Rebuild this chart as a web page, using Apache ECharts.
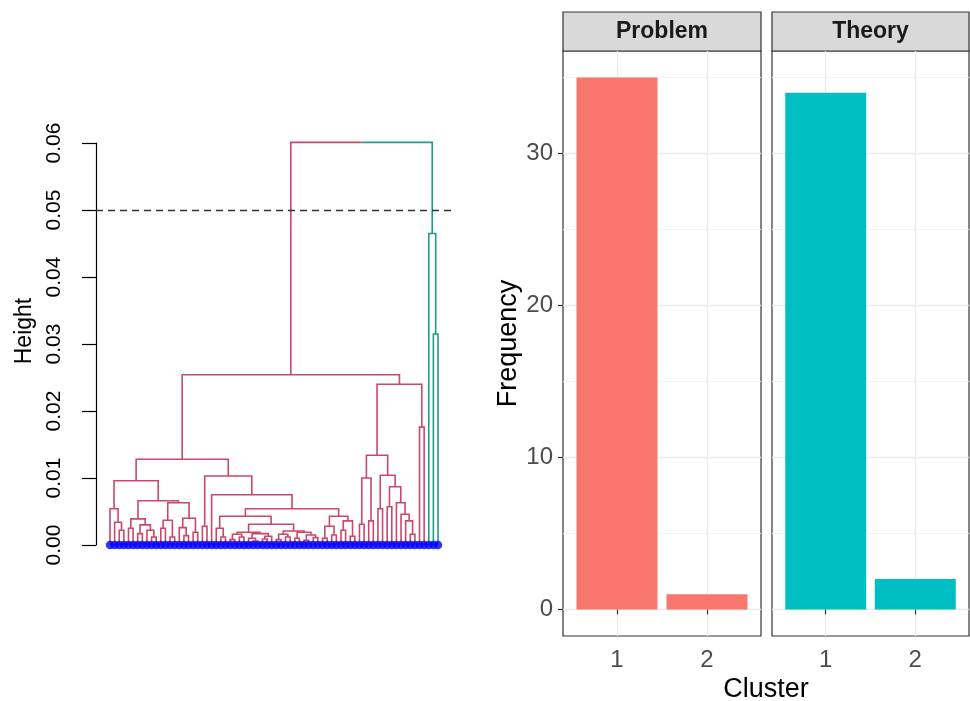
<!DOCTYPE html>
<html><head><meta charset="utf-8">
<script src="https://cdn.jsdelivr.net/npm/echarts@6/dist/echarts.min.js"></script>
<style>html,body{margin:0;padding:0;background:#fff}#c{width:970px;height:701px}</style>
</head><body><div id="c"></div>
<script>
// ---------------- Dendrogram data: node = [mergeHeight, left, right], 0 = leaf ----------------
const subA   = [0.0054, 0, [0.0034, 0, [0.0022, 0, 0]]];
const subB1  = [0.0039, [0.0025, 0, 0], [0.0030, [0.0017, 0, 0], [0.0022, 0, [0.0012, 0, 0]]]];
const subB2  = [0.0063, [0.0037, [0.0025, 0, 0], [0.0012, 0, 0]], [0.0040, [0.0026, 0, [0.0014, 0, 0]], [0.0019, 0, 0]]];
const subQ   = [0.0096, subA, [0.0066, subB1, subB2]];
const subRLa = [0.0019, [0.0016, [0.0008, 0, 0], [0.0012, 0, 0]], [0.0017, [0.0010, 0, [0.0006, 0, 0]], [0.0013, [0.0009, 0, 0], 0]]];
const subRLb = [0.0021, [0.0016, [0.0008, 0, 0], [0.0012, 0, 0]], [0.0019, [0.0010, 0, 0], [0.0015, [0.0007, 0, 0], [0.0011, 0, 0]]]];
const subRL  = [0.0043, [0.0025, 0, [0.0012, 0, 0]], [0.0031, subRLa, subRLb]];
const subRR  = [0.0043, [0.0028, [0.0010, 0, 0], [0.0015, 0, 0]], [0.0036, [0.0022, 0, 0], [0.0013, 0, 0]]];
const subR   = [0.0103, [0.0028, 0, 0], [0.0075, 0, [0.0054, subRL, subRR]]];
const subS1  = [0.0134, [0.0100, [0.0031, 0, 0], [0.0036, 0, 0]],
                [0.0104, [0.0054, 0, 0], [0.0087, [0.0057, 0, 0], [0.0063, 0, [0.0046, 0, [0.0036, 0, [0.0016, 0, 0]]]]]]];
const subS   = [0.0240, subS1, [0.0176, 0, 0]];
const cluster1Tree = [0.0254, [0.0128, subQ, subR], subS];
const cluster2Tree = [0.0465, 0, [0.0315, 0, 0]];
const rootHeight = 0.0601;
const cutHeight = 0.05;

// ---------------- Bar chart data ----------------
const facetNames = ['Problem', 'Theory'];
const clusterCategories = [1, 2];
const problemFreq = [35, 1];
const theoryFreq = [34, 2];
const freqTicks = [0, 10, 20, 30];
const freqMinor = [5, 15, 25, 35];

// ---------------- Build dendrogram segments ----------------
const PINK = '#CC476B', GREEN = '#1E9C88';
let leafCounter = 0;
const segs = [], leafPts = [];
function layout(node, color) {
  if (node === 0) { const x = leafCounter++; leafPts.push([x, 0]); return {x: x, h: 0}; }
  const a = layout(node[1], color), b = layout(node[2], color);
  segs.push({coords: [[a.x, a.h], [a.x, node[0]], [b.x, node[0]], [b.x, b.h]], lineStyle: {color: color}});
  return {x: (a.x + b.x) / 2, h: node[0]};
}
const c1 = layout(cluster1Tree, PINK);
const c2 = layout(cluster2Tree, GREEN);
const xm = (c1.x + c2.x) / 2;
segs.push({coords: [[c1.x, c1.h], [c1.x, rootHeight], [xm, rootHeight]], lineStyle: {color: PINK}});
segs.push({coords: [[xm, rootHeight], [c2.x, rootHeight], [c2.x, c2.h]], lineStyle: {color: GREEN}});
const nLeaves = leafCounter;

const FONT = 'Liberation Sans, Arial, sans-serif';
const chart = echarts.init(document.getElementById('c'), null, {renderer: 'canvas'});

function barYAxis(idx, showLabels) {
  return {
    gridIndex: idx, type: 'value', min: -1.75, max: 36.75, position: 'left',
    axisLine: {show: false},
    axisTick: {show: showLabels, customValues: freqTicks, length: 5, lineStyle: {color: '#333', width: 1.2}},
    axisLabel: {show: showLabels, customValues: freqTicks, fontSize: 24, color: '#4D4D4D', margin: 10, fontFamily: FONT},
    splitLine: {show: true, lineStyle: {color: '#EBEBEB', width: 1.3}},
    name: showLabels ? 'Frequency' : '', nameLocation: 'middle', nameGap: 41,
    nameTextStyle: {fontSize: 27, color: '#000', fontFamily: FONT}
  };
}
function barMinorYAxis(idx) {
  return {
    gridIndex: idx, type: 'value', min: -1.75, max: 36.75, position: 'right',
    axisLine: {show: false},
    axisTick: {show: false, customValues: freqMinor},
    axisLabel: {show: false, customValues: freqMinor},
    splitLine: {show: true, lineStyle: {color: '#F2F2F2', width: 1}}
  };
}
function barXAxis(idx) {
  return {
    gridIndex: idx, type: 'value', min: 0.4, max: 2.6,
    axisLine: {show: false},
    axisTick: {show: true, customValues: clusterCategories, length: 5, lineStyle: {color: '#333', width: 1.2}},
    axisLabel: {customValues: clusterCategories, fontSize: 24, color: '#4D4D4D', margin: 12, fontFamily: FONT},
    splitLine: {show: true, lineStyle: {color: '#EBEBEB', width: 1.3}}
  };
}

const option = {
  animation: false,
  backgroundColor: '#fff',
  textStyle: {fontFamily: FONT},
  grid: [
    {left: 96, right: 515, top: 143, bottom: 156},
    {left: 563, top: 51, width: 198, height: 585, show: true, borderColor: '#333', borderWidth: 1.2, backgroundColor: '#fff'},
    {left: 772, top: 51, width: 197, height: 585, show: true, borderColor: '#333', borderWidth: 1.2, backgroundColor: '#fff'}
  ],
  xAxis: [
    {gridIndex: 0, type: 'value', min: -3.03, max: nLeaves - 1 + 3.68, show: false},
    barXAxis(1), barXAxis(2)
  ],
  yAxis: [
    {gridIndex: 0, type: 'value', min: 0, max: 0.06, interval: 0.01,
     axisLine: {show: true, onZero: false, lineStyle: {color: '#000', width: 1.2}},
     axisTick: {show: true, length: 14, lineStyle: {color: '#000', width: 1.2}},
     axisLabel: {rotate: 90, fontSize: 21, color: '#000', margin: 31, fontFamily: FONT,
                 formatter: v => v.toFixed(2)},
     splitLine: {show: false}},
    barYAxis(1, true), barYAxis(2, false),
    barMinorYAxis(1), barMinorYAxis(2)
  ],
  series: [
    {type: 'lines', coordinateSystem: 'cartesian2d', xAxisIndex: 0, yAxisIndex: 0, polyline: true,
     silent: true, clip: false, lineStyle: {width: 1.6, opacity: 1}, data: segs, z: 2},
    {type: 'scatter', xAxisIndex: 0, yAxisIndex: 0, data: leafPts, symbolSize: 8.5, clip: false,
     itemStyle: {color: '#0000FF'}, z: 3, silent: true,
     markLine: {symbol: 'none', silent: true, label: {show: false},
       lineStyle: {color: '#333', type: [7, 5], width: 1.3},
       data: [{yAxis: cutHeight}]}},
    {type: 'bar', xAxisIndex: 1, yAxisIndex: 1, barWidth: 81, z: 2,
     data: clusterCategories.map((c, i) => [c, problemFreq[i]]), itemStyle: {color: '#F8766D'}},
    {type: 'bar', xAxisIndex: 2, yAxisIndex: 2, barWidth: 81, z: 2,
     data: clusterCategories.map((c, i) => [c, theoryFreq[i]]), itemStyle: {color: '#00BFC4'}}
  ],
  graphic: [
    {type: 'rect', shape: {x: 563, y: 12, width: 198, height: 39}, style: {fill: '#D9D9D9', stroke: '#333', lineWidth: 1.2}},
    {type: 'text', x: 662, y: 32, style: {text: facetNames[0], fontSize: 23, fontWeight: 'bold', fontFamily: FONT, fill: '#1A1A1A', align: 'center', verticalAlign: 'middle'}},
    {type: 'rect', shape: {x: 772, y: 12, width: 197, height: 39}, style: {fill: '#D9D9D9', stroke: '#333', lineWidth: 1.2}},
    {type: 'text', x: 870.5, y: 32, style: {text: facetNames[1], fontSize: 23, fontWeight: 'bold', fontFamily: FONT, fill: '#1A1A1A', align: 'center', verticalAlign: 'middle'}},
    {type: 'text', x: 766, y: 690, style: {text: 'Cluster', fontSize: 27, fontFamily: FONT, fill: '#000', align: 'center', verticalAlign: 'middle'}},
    {type: 'text', x: 25, y: 331, rotation: Math.PI / 2, style: {text: 'Height', fontSize: 23, fontFamily: FONT, fill: '#000', align: 'center', verticalAlign: 'middle'}}
  ]
};
chart.setOption(option);
</script></body></html>
